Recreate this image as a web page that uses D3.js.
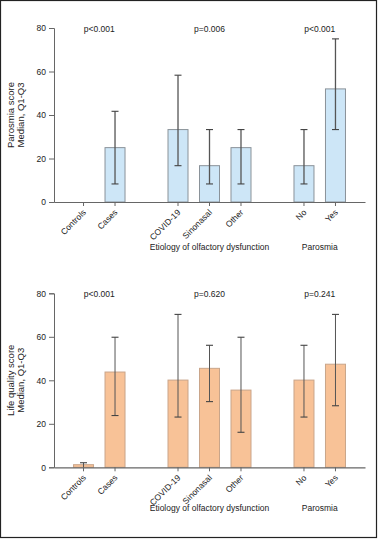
<!DOCTYPE html>
<html><head><meta charset="utf-8">
<script src="https://cdn.jsdelivr.net/npm/d3@7"></script>
<style>
html,body{margin:0;padding:0;background:#fff;}
svg{display:block;font-family:"Liberation Sans",Arial,sans-serif;}
</style></head>
<body>
<svg id="chart" width="378" height="539"></svg>
<script>
const categories = ["Controls","Cases","gap1","COVID-19","Sinonasal","Other","gap2","No","Yes"];
const barCategories = ["Controls","Cases","COVID-19","Sinonasal","Other","No","Yes"];
const yTicks = [0,20,40,60,80];

// Panel 1: Parosmia score
const parosmiaMedian = [0, 25, 33.3, 16.7, 25, 16.7, 52];
const parosmiaQ1     = [0, 8.3, 16.7, 8.3, 8.3, 8.3, 33.3];
const parosmiaQ3     = [0, 41.7, 58.3, 33.3, 33.3, 33.3, 75];
const parosmiaP = ["p<0.001","p=0.006","p<0.001"];

// Panel 2: Life quality score
const lifeMedian = [1.2, 43.8, 40.1, 45.5, 35.5, 40.1, 47.4];
const lifeQ1     = [0, 23.8, 23.1, 30.2, 16.1, 23.1, 28.3];
const lifeQ3     = [2.1, 59.8, 70.3, 56.1, 59.8, 56.1, 70.3];
const lifeP = ["p<0.001","p=0.620","p=0.241"];

const groups = [["Controls","Cases"],["COVID-19","Sinonasal","Other"],["No","Yes"]];
const groupLabels = [null,"Etiology of olfactory dysfunction","Parosmia"];

const svg = d3.select("#chart");
svg.append("rect").attr("x",0.5).attr("y",0.5).attr("width",376).attr("height",537)
  .attr("fill","none").attr("stroke","#222").attr("stroke-width",1.2);

function panel(opt){
  const x = d3.scaleBand().domain(categories).range([54,365]).paddingInner(0.365).paddingOuter(0.62);
  const y = d3.scaleLinear().domain([0,80]).range([opt.y0, opt.y0-174]);
  const g = svg.append("g");
  const cx = c => x(c)+x.bandwidth()/2;

  // y axis
  const ya = g.append("g").attr("transform","translate(54,0)")
    .call(d3.axisLeft(y).tickValues(yTicks).tickSize(5).tickPadding(3));
  ya.select(".domain").attr("stroke","#666");
  ya.selectAll(".tick line").attr("stroke","#666");
  ya.selectAll(".tick text").attr("font-size",8.5).attr("fill","#222");

  // bars
  const data = barCategories.map((c,i)=>({c, m:opt.median[i], q1:opt.q1[i], q3:opt.q3[i]}));
  g.selectAll("rect.bar").data(data.filter(d=>d.m>0)).join("rect").attr("class","bar")
    .attr("x",d=>x(d.c)).attr("width",x.bandwidth())
    .attr("y",d=>y(d.m)).attr("height",d=>y(0)-y(d.m))
    .attr("fill",opt.fill).attr("stroke",opt.stroke).attr("stroke-width",1);

  // error bars
  const eb = data.filter(d=>d.q3>d.q1);
  g.selectAll("line.eb").data(eb).join("line").attr("class","eb")
    .attr("x1",d=>cx(d.c)).attr("x2",d=>cx(d.c))
    .attr("y1",d=>y(d.q1)).attr("y2",d=>y(d.q3))
    .attr("stroke","#555").attr("stroke-width",opt.ebw);
  ["q1","q3"].forEach(k=>{
    g.selectAll("line.cap"+k).data(eb.filter(d=>d[k]>0)).join("line").attr("class","cap"+k)
      .attr("x1",d=>cx(d.c)-3.5).attr("x2",d=>cx(d.c)+3.5)
      .attr("y1",d=>y(d[k])).attr("y2",d=>y(d[k]))
      .attr("stroke","#444").attr("stroke-width",1.1);
  });

  // x axis
  const xa = g.append("g").attr("transform",`translate(0,${opt.y0})`)
    .call(d3.axisBottom(x).tickSize(4).tickSizeOuter(0));
  xa.select(".domain").attr("stroke","#666").attr("stroke-width",1.2);
  xa.selectAll(".tick").filter(d=>d.startsWith("gap")).remove();
  xa.selectAll(".tick line").attr("stroke","#666");
  xa.selectAll(".tick text").attr("font-size",8.5).attr("fill","#222")
    .attr("text-anchor","end").attr("dy",0).attr("y",0)
    .attr("transform","translate(3,11) rotate(-45)");

  // p values
  groups.forEach((gr,i)=>{
    const mid = (cx(gr[0])+cx(gr[gr.length-1]))/2;
    g.append("text").attr("x",mid).attr("y",y(80)+4).attr("text-anchor","middle")
      .attr("font-size",8.5).attr("fill","#222").text(opt.p[i]);
    if(groupLabels[i]) g.append("text").attr("x",mid).attr("y",opt.y0+opt.glOff)
      .attr("text-anchor","middle").attr("font-size",8.5).attr("fill","#222").text(groupLabels[i]);
  });

  // y label
  const ymid = (y(0)+y(80))/2;
  const yl = g.append("text").attr("transform",`translate(14,${ymid}) rotate(-90)`)
    .attr("text-anchor","middle").attr("font-size",9.5).attr("fill","#222");
  yl.append("tspan").attr("x",0).attr("dy",0).text(opt.ylabel);
  yl.append("tspan").attr("x",0).attr("dy",9.5).text("Median, Q1-Q3");
}

panel({y0:202, median:parosmiaMedian, q1:parosmiaQ1, q3:parosmiaQ3, p:parosmiaP,
  fill:"#cde6f7", stroke:"#8a9299", ebw:1.3, ylabel:"Parosmia score", glOff:48});
panel({y0:467.3, median:lifeMedian, q1:lifeQ1, q3:lifeQ3, p:lifeP,
  fill:"#f8c297", stroke:"#c9a58a", ebw:1, ylabel:"Life quality score", glOff:44});
</script>
</body></html>
